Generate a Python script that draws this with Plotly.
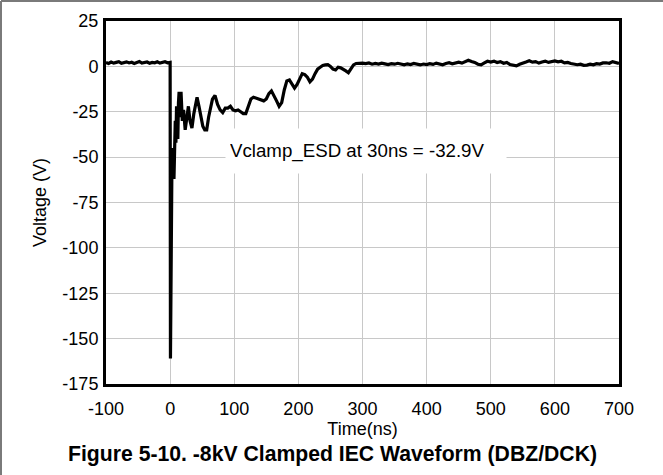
import plotly.graph_objects as go

# ---- data ----
pre_t = [-100, -96, -92, -88, -84, -80, -76, -72, -68, -64, -60, -56, -52, -48, -44, -40,
         -36, -32, -28, -24, -20, -16, -12, -8, -4, 0]
pre_v = [2.1, 1.6, 2.4, 1.8, 2.2, 2.6, 1.7, 2.0, 2.5, 1.9, 2.3, 1.6, 2.2, 2.7, 1.8, 2.1,
         2.4, 1.7, 2.2, 2.0, 2.5, 1.8, 2.3, 2.6, 2.0, 2.2]

ring_t = [0.5, 1, 1.5, 2, 3, 4, 5, 6, 7, 8, 9, 10, 11, 12, 13, 14, 16, 17, 19, 21, 23.5,
          26, 28.5, 31, 34, 37, 40, 42, 45, 48, 51, 54, 57, 60, 63, 66, 70, 74, 78, 82,
          86, 90, 94, 98, 102, 106, 110, 114, 118, 122, 126, 130, 134, 138, 142, 146,
          150, 154, 158, 162, 166, 170, 174, 178, 182, 186, 190, 194, 198, 202, 206,
          210, 214, 218, 222, 226, 230, 234, 238, 242, 246, 250, 254, 258, 262, 266,
          270, 274, 278, 282, 286, 290, 295]
ring_v = [-161, -120, -84, -62, -45, -60, -48, -62, -50, -30, -42, -22, -35, -40, -20, -14,
          -28, -14, -30, -24, -35, -28, -22, -30, -34, -26, -19, -17, -22, -28, -33, -35,
          -35, -28, -22, -18, -16, -21, -24, -25.5, -23, -23, -22, -24, -24.5, -24, -25,
          -26, -26, -22, -18, -17, -17.5, -18, -18.5, -19, -18, -15, -13.5, -16, -19, -22,
          -20, -13, -8, -7.5, -10, -12, -10, -7, -4, -4.5, -6, -8.5, -7, -4, -1.5, -0.5,
          0.5, 0.8, 1, 0, -1.5, -2, -0.5, -0.8, -1.5, -2.5, -3.5, -1.5, 0.8, 1.6, 1.9]

tail_t = [300, 305, 310, 315, 320, 325, 330, 335, 340, 345, 350, 355, 360, 365, 370, 375,
          380, 385, 390, 395, 400, 405, 410, 415, 420, 425, 430, 435, 440, 445, 450, 455,
          460, 465, 470, 475, 480, 485, 490, 495, 500, 505, 510, 515, 520, 525, 530, 535,
          540, 545, 550, 555, 560, 565, 570, 575, 580, 585, 590, 595, 600, 605, 610, 615,
          620, 625, 630, 635, 640, 645, 650, 655, 660, 665, 670, 675, 680, 685, 690, 695, 700]
tail_v = [1.8, 1.5, 1.9, 1.2, 1.6, 1.3, 1.8, 1.4, 1.0, 1.5, 1.2, 1.7, 1.1, 0.9, 1.4, 1.0,
          1.6, 1.2, 0.8, 1.3, 1.0, 1.5, 1.1, 1.8, 1.3, 0.9, 1.6, 2.0, 1.4, 1.9, 2.3, 1.8,
          2.6, 3.4, 2.7, 2.2, 1.2, 0.8, 1.9, 2.8, 2.4, 2.9, 2.1, 2.6, 1.7, 2.2, 1.0, 0.5,
          0.3, 1.2, 1.6, 2.4, 3.1, 2.3, 2.6, 1.8, 2.4, 2.9, 2.2, 2.6, 3.0, 2.5, 2.8, 1.9,
          2.2, 1.6, 1.3, 0.9, 1.2, 0.6, 0.7, 1.2, 0.9, 1.5, 1.3, 1.9, 2.0, 1.7, 2.6, 2.2, 1.6]

x_ticks = [-100, 0, 100, 200, 300, 400, 500, 600, 700]
y_ticks = [25, 0, -25, -50, -75, -100, -125, -150, -175]

annotation_text = "Vclamp_ESD at 30ns = -32.9V"
title_text = "Figure 5-10. -8kV Clamped IEC Waveform (DBZ/DCK)"

time_ns = pre_t + ring_t + tail_t
voltage_v = pre_v + ring_v + tail_v

FONT = "Liberation Sans, Arial, sans-serif"

fig = go.Figure()
fig.add_trace(go.Scatter(x=time_ns, y=voltage_v, mode="lines",
                         line=dict(color="black", width=3.2), showlegend=False,
                         hoverinfo="skip"))

L, R, T, B = 106, 44, 21, 91
W, H = 663, 475
pw, ph = W - L - R, H - T - B

fig.update_layout(
    width=W, height=H,
    margin=dict(l=L, r=R, t=T, b=B),
    paper_bgcolor="white", plot_bgcolor="white",
    font=dict(family=FONT, size=18, color="black"),
    xaxis=dict(range=[-100, 700], tickvals=x_ticks, ticktext=[str(v) for v in x_ticks],
               showgrid=True, gridcolor="#c8c8c8", gridwidth=1, zeroline=False,
               showline=True, linecolor="black", linewidth=3, mirror=True,
               ticks="", ticklabelstandoff=6,
               title=dict(text="Time(ns)", standoff=4, font=dict(size=18))),
    yaxis=dict(range=[-175, 25], tickvals=y_ticks, ticktext=[str(v) for v in y_ticks],
               showgrid=True, gridcolor="#c8c8c8", gridwidth=1, zeroline=False,
               showline=True, linecolor="black", linewidth=3, mirror=True,
               ticks="", ticklabelstandoff=1,
               title=dict(text="Voltage (V)", standoff=12, font=dict(size=18))),
)

fig.add_annotation(x=305, y=-46.5, xref="x", yref="y", text=annotation_text,
                   showarrow=False, bgcolor="white", font=dict(size=18.7, family=FONT),
                   width=272, height=36, borderpad=4, align="left",
                   xanchor="center", yanchor="middle")

fig.add_annotation(x=(332 - L) / pw, y=-(454 - (H - B)) / ph, xref="paper", yref="paper",
                   text="<b>" + title_text + "</b>", showarrow=False,
                   font=dict(size=21.2, family=FONT), xanchor="center", yanchor="middle")

# outer frame (left and top edges)
x0 = (1 - L) / pw
y1 = 1 + (T - 1) / ph
fig.add_shape(type="line", xref="paper", yref="paper", x0=x0, x1=x0, y0=-(H - (H - B)) / ph, y1=y1,
              line=dict(color="#7a7a7a", width=2))
fig.add_shape(type="line", xref="paper", yref="paper", x0=x0, x1=(W - L) / pw, y0=y1, y1=y1,
              line=dict(color="#7a7a7a", width=2))

fig.write_html("out.html", config={"displayModeBar": False},
               post_script="document.body.style.margin='0';document.body.style.padding='0';"
                           "document.documentElement.style.overflow='hidden';")
